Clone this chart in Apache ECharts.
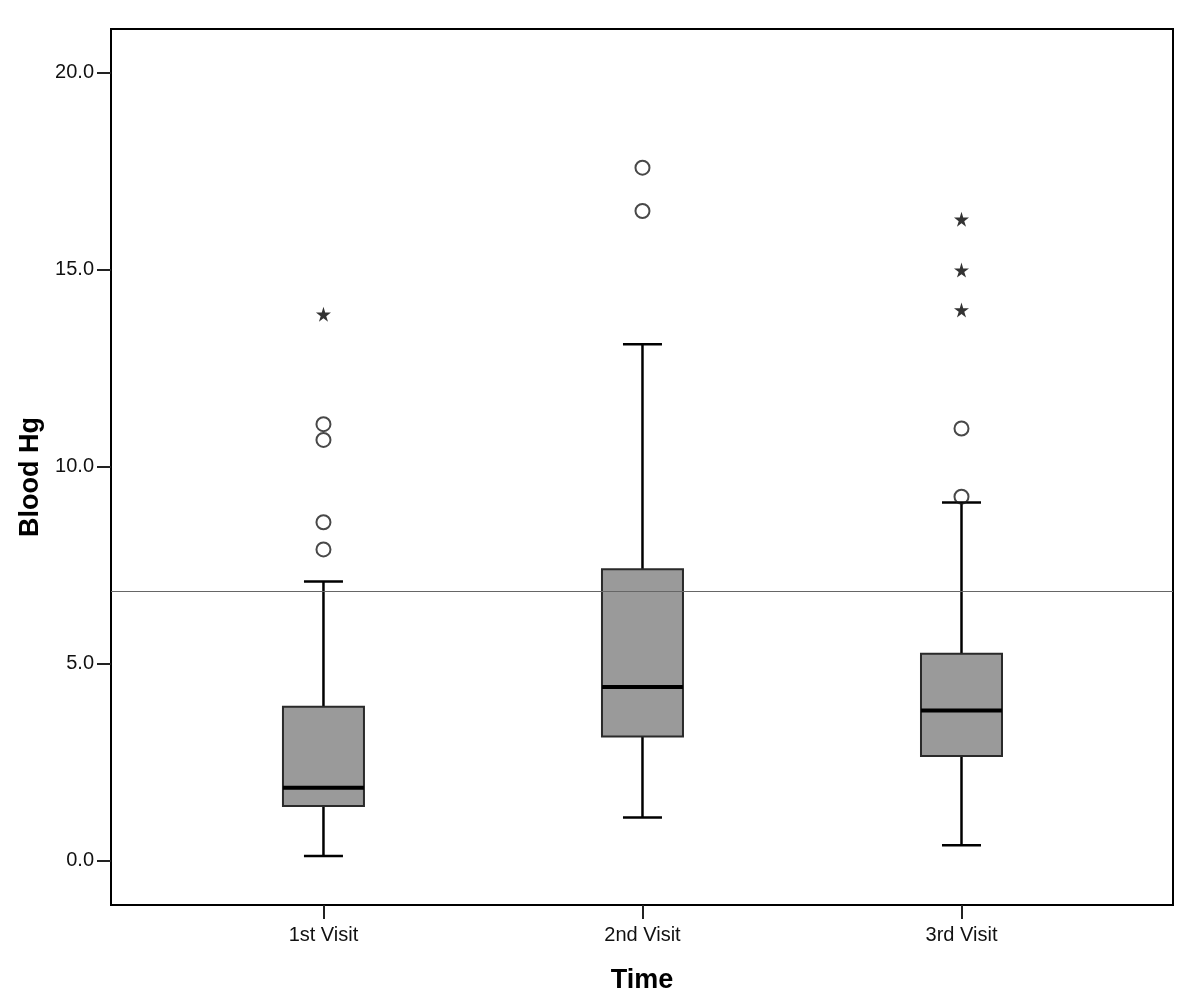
<!DOCTYPE html>
<html>
<head>
<meta charset="utf-8">
<script src="https://cdn.jsdelivr.net/npm/echarts@6/dist/echarts.min.js"></script>
<style>
html,body{margin:0;padding:0;background:#fff;}
#chart{width:1200px;height:1007px;}
</style>
</head>
<body>
<div id="chart"></div>
<script>
const categories = ['1st Visit', '2nd Visit', '3rd Visit'];
const boxMin    = [0.12, 1.10, 0.39];
const boxQ1     = [1.39, 3.15, 2.66];
const boxMedian = [1.85, 4.41, 3.81];
const boxQ3     = [3.91, 7.40, 5.25];
const boxMax    = [7.09, 13.11, 9.09];
// outliers: [category index (1-based), value]
const circleOutliers = [[1, 11.08], [1, 10.68], [1, 8.59], [1, 7.90], [2, 17.59], [2, 16.49], [3, 10.97], [3, 9.24]];
const extremeOutliers = [[1, 13.87], [3, 16.28], [3, 14.99], [3, 13.98]];
const yTicks = [0, 5, 10, 15, 20];
const referenceValue = 6.85;

const boxData = categories.map((c, i) => [i + 1, boxMin[i], boxQ1[i], boxMedian[i], boxQ3[i], boxMax[i]]);

const starPath = 'path://M50,0 L61,35 L98,35 L68,57 L79,91 L50,70 L21,91 L32,57 L2,35 L39,35 Z';

const chart = echarts.init(document.getElementById('chart'), null, {renderer: 'canvas'});

function renderBox(params, api) {
  const x = api.value(0);
  const pMin = api.coord([x, api.value(1)]);
  const pQ1 = api.coord([x, api.value(2)]);
  const pMed = api.coord([x, api.value(3)]);
  const pQ3 = api.coord([x, api.value(4)]);
  const pMax = api.coord([x, api.value(5)]);
  const cx = pMed[0];
  const halfBox = 40.5;
  const halfCap = 19.5;
  const whisker = {stroke: '#000', lineWidth: 2.5};
  return {
    type: 'group',
    children: [
      {type: 'line', shape: {x1: cx, y1: pMax[1], x2: cx, y2: pQ3[1]}, style: whisker},
      {type: 'line', shape: {x1: cx, y1: pMin[1], x2: cx, y2: pQ1[1]}, style: whisker},
      {type: 'line', shape: {x1: cx - halfCap, y1: pMax[1], x2: cx + halfCap, y2: pMax[1]}, style: whisker},
      {type: 'line', shape: {x1: cx - halfCap, y1: pMin[1], x2: cx + halfCap, y2: pMin[1]}, style: whisker},
      {type: 'rect', shape: {x: cx - halfBox, y: pQ3[1], width: halfBox * 2, height: pQ1[1] - pQ3[1]},
        style: {fill: '#9a9a9a', stroke: '#2a2a2a', lineWidth: 2}},
      {type: 'line', shape: {x1: cx - halfBox, y1: pMed[1], x2: cx + halfBox, y2: pMed[1]},
        style: {stroke: '#000', lineWidth: 4}}
    ]
  };
}

const option = {
  backgroundColor: '#fff',
  animation: false,
  grid: {
    left: 111, right: 27, top: 29, bottom: 102,
    show: true, borderColor: '#000', borderWidth: 2, backgroundColor: '#fff'
  },
  xAxis: {
    type: 'value',
    min: 0.334,
    max: 3.663,
    name: 'Time',
    nameLocation: 'middle',
    nameGap: 62,
    nameTextStyle: {fontFamily: 'Liberation Sans', fontWeight: 'bold', fontSize: 27, color: '#000'},
    axisLine: {show: true, onZero: false, lineStyle: {color: '#000', width: 2}},
    axisTick: {show: true, customValues: [1, 2, 3], length: 14, lineStyle: {color: '#222', width: 2}},
    axisLabel: {
      customValues: [1, 2, 3],
      formatter: v => categories[Math.round(v) - 1] || '',
      fontFamily: 'Liberation Sans', fontSize: 20, color: '#111', margin: 20
    },
    splitLine: {show: false}
  },
  yAxis: {
    type: 'value',
    min: -1.124,
    max: 21.11,
    name: 'Blood Hg',
    nameLocation: 'middle',
    nameGap: 63,
    nameTextStyle: {fontFamily: 'Liberation Sans', fontWeight: 'bold', fontSize: 27, color: '#000', padding: [0, 20, 0, 0]},
    axisLine: {show: true, onZero: false, lineStyle: {color: '#000', width: 2}},
    axisTick: {show: true, customValues: yTicks, length: 14, lineStyle: {color: '#222', width: 2}},
    axisLabel: {
      customValues: yTicks,
      formatter: v => v.toFixed(1),
      fontFamily: 'Liberation Sans', fontSize: 20, color: '#111', margin: 17,
      padding: [3, 0, 0, 0]
    },
    splitLine: {show: false}
  },
  series: [
    {
      type: 'custom',
      renderItem: renderBox,
      data: boxData,
      encode: {x: 0, y: [1, 2, 3, 4, 5]},
      z: 2
    },
    {
      type: 'scatter',
      data: circleOutliers,
      symbol: 'circle',
      symbolSize: 14,
      itemStyle: {color: 'rgba(255,255,255,0)', borderColor: '#1a1a1a', borderWidth: 2},
      z: 3,
      markLine: {
        silent: true,
        symbol: ['none', 'none'],
        label: {show: false},
        lineStyle: {color: '#666', width: 1.2, type: 'solid'},
        data: [{yAxis: referenceValue}],
        z: 10
      }
    },
    {
      type: 'scatter',
      data: extremeOutliers,
      symbol: starPath,
      symbolSize: 15,
      itemStyle: {color: '#000'},
      z: 3
    }
  ]
};
chart.setOption(option);
</script>
</body>
</html>
